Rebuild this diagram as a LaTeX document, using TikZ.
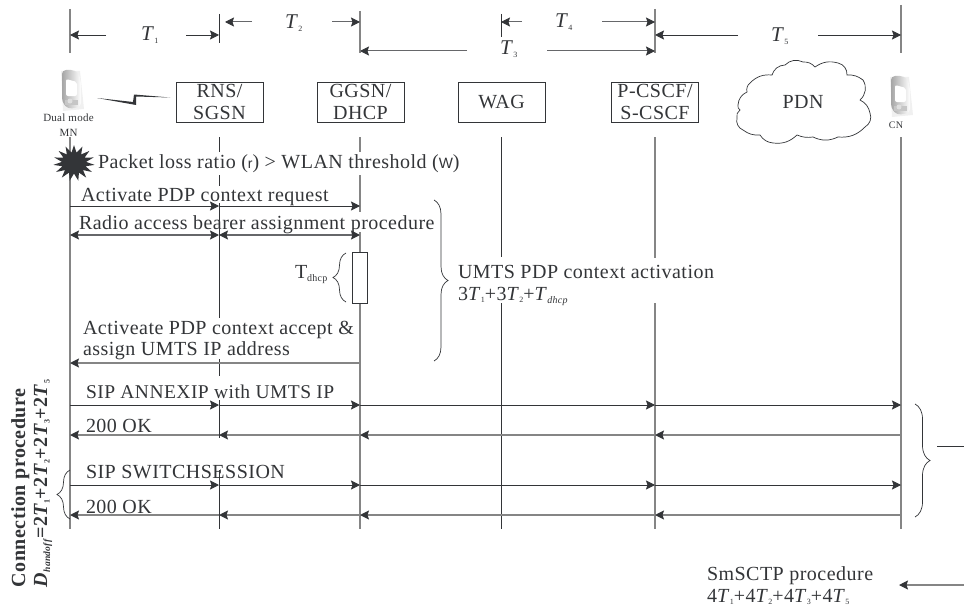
\documentclass[tikz,border=0pt]{standalone}
\usepackage{fontspec}
\setmainfont[LetterSpace=2.4]{Liberation Serif}
\newfontfamily\sansr{Liberation Sans}
\usetikzlibrary{arrows.meta,decorations.pathreplacing,shapes.geometric}
\definecolor{ink}{HTML}{333538}
\definecolor{grayline}{HTML}{858585}
\newcommand\Tn[1]{\textit{T}\raisebox{-2.5pt}{\fontsize{8}{8}\selectfont #1}}
\newcommand\Tnb[1]{\textbf{\textit{T}}\raisebox{-2.5pt}{\fontsize{8}{8}\selectfont #1}}
\tikzset{
  x=1pt,y=-1pt,
  every node/.style={text=ink,inner sep=0pt,outer sep=0pt},
  tip/.style={-{Stealth[length=9pt,width=9pt,inset=1.5pt,color=ink]}},
  tipb/.style={{Stealth[length=9pt,width=9pt,inset=1.5pt,color=ink]}-{Stealth[length=9pt,width=9pt,inset=1.5pt,color=ink]}},
  dark/.style={draw=ink,line width=.9pt},
  pale/.style={draw=grayline,line width=1.3pt},
  mid/.style={draw=ink!75,line width=1pt},
  label/.style={anchor=base west,font=\fontsize{20}{22}\selectfont},
  tlabel/.style={anchor=base west,font=\fontsize{21}{22}\selectfont},
  entity/.style={draw=ink,line width=.8pt,minimum width=87pt,minimum height=40pt,align=center,font=\fontsize{20}{22}\selectfont},
  small/.style={font=\fontsize{11}{15}\selectfont,align=center},
  bracedeco/.style={draw=ink,line width=.7pt,decorate,decoration={brace,amplitude=#1,aspect=.5}},
  phone/.pic={
    \fill[gray!12] (-10,-19) -- (9,-19) -- (13,19) -- (-8,21) -- cycle;
    \shade[left color=gray!70,right color=white,rounded corners=4pt] (-9,-20) -- (4,-20) .. controls (8,-16) and (9,-12) .. (10,-8) -- (10,17) -- (-3,19) -- (-9,12) -- cycle;
    \fill[white,rounded corners=2pt] (-5,-11) -- (6,-8) -- (6,6) -- (-5,6) -- cycle;
    \fill[gray!45] (-6,10) rectangle (7,15);
    \fill[gray!25] (-1,11) circle (2.5pt);
  }
}
\begin{document}
\begin{tikzpicture}
\useasboundingbox (0,0) rectangle (964,610);
% lifeline positions
\coordinate (la) at (70,0); \coordinate (lb) at (219,0); \coordinate (lc) at (360,0);
\coordinate (ld) at (501,0); \coordinate (le) at (655,0); \coordinate (lf) at (901,0);
\newcommand\seg[4]{\draw[#1] (#2 |- 0,#3) -- (#2 |- 0,#4);}
% timing ticks
\seg{pale}{la}{9}{53}\seg{dark}{lb}{14}{43}\seg{pale}{lc}{11}{53}
\seg{dark}{ld}{14}{37}\seg{pale}{le}{9}{53}\seg{pale}{lf}{5}{53}
% timing labels
\node[tlabel] (t1) at (141,41) {\Tn{1}};
\node[tlabel] (t2) at (285,29) {\Tn{2}};
\node[tlabel] (t3) at (500,55) {\Tn{3}};
\node[tlabel] (t4) at (555,28) {\Tn{4}};
\node[tlabel] (t5) at (771,42) {\Tn{5}};
% timing arrows
\coordinate (t1l) at (106,35); \coordinate (t1r) at (186,35);
\coordinate (t2l) at (252,22); \coordinate (t2r) at (332,22);
\coordinate (t3l) at (467,51); \coordinate (t3r) at (547,51);
\coordinate (t4l) at (522,22); \coordinate (t4r) at (602,22);
\coordinate (t5l) at (738,35); \coordinate (t5r) at (818,35);
\draw[dark,tip] (t1l) -- (la |- t1l);  \draw[dark,tip] (t1r) -- (lb |- t1r);
\draw[mid,tip] (t2l) -- ([xshift=6pt]lb |- t2l);  \draw[mid,tip] (t2r) -- (lc |- t2r);
\draw[mid,tip] (t3l) -- (lc |- t3l);  \draw[mid,tip] (t3r) -- (le |- t3r);
\draw[mid,tip] (t4l) -- (ld |- t4l);  \draw[mid,tip] (t4r) -- (le |- t4r);
\draw[dark,tip] (t5l) -- (le |- t5l);  \draw[dark,tip] (t5r) -- (lf |- t5r);
% entities
\pic at (71,90) {phone};
\node[small] (mn) at (68.5,125) {Dual mode\\MN};
\node[entity] (rns) at (219.5,102) {RNS/\\SGSN};
\node[entity] (ggsn) at (360.5,102) {GGSN/\\DHCP};
\node[entity] (wag) at (501.5,102) {WAG};
\node[entity] (cscf) at (655,102) {P-CSCF/\\S-CSCF};
\node[font=\fontsize{20}{22}\selectfont] (pdn) at (803,102) {PDN};
\draw[draw=ink,line width=.7pt] (737,118) to[bend left=35] (740,110) to[bend left=35] (738,105) to[bend left=30] (747,92) to[bend left=30] (750,83) to[bend left=25] (772,75) to[bend left=35] (785,65) to[bend left=35] (803,62) to[bend left=25] (815,67) to[bend left=25] (838,63) to[bend left=40] (847,75) to[bend left=20] (863,80) to[bend left=40] (860,100) to[bend left=25] (870,113) to[bend left=40] (865,127) to[bend left=25] (838,137) to[bend left=25] (813,137) to[bend left=15] (797,135) to[bend left=25] (773,143) to[bend left=25] (760,135) to[bend left=20] (743,130) to[bend left=40] (737,118);
\pic at (900,96) {phone};
\node[small,font=\fontsize{10}{12}\selectfont] (cn) at (896,125) {CN};
% radio link
\fill[ink] (97,98) -- (133,102) -- (134,94.5) -- (170,97.5) -- (136,96.5) -- (136,105) -- cycle;
% lifelines
\seg{pale}{la}{137}{529}
\seg{dark}{lb}{137}{152}\seg{dark}{lb}{175}{186}\seg{dark}{lb}{203}{318}\seg{dark}{lb}{359}{376}\seg{dark}{lb}{400}{438}\seg{dark}{lb}{470}{529}
\seg{pale}{lc}{137}{152}\seg{pale}{lc}{175}{212}\seg{pale}{lc}{232}{252}\seg{pale}{lc}{303}{529}
\seg{dark}{ld}{137}{257}\seg{dark}{ld}{303}{529}
\seg{pale}{le}{137}{258}\seg{pale}{le}{303}{529}
\seg{pale}{lf}{137}{529}
% burst and text
\node[star,star points=15,star point ratio=1.7,fill=ink,minimum size=36pt,xscale=1.15] (burst) at (74,163) {};
\node[label] (pkt) at (98,168) {Packet loss ratio ({\sansr\fontsize{14}{14}\selectfont r}) > WLAN threshold ({\sansr\fontsize{15}{15}\selectfont W})};
\node[label] (m1) at (81,201) {Activate PDP context request};
\node[label] (m2) at (79,229) {Radio access bearer assignment procedure};
\node[label] (m3a) at (83,334) {Activeate PDP context accept \&};
\node[label] (m3b) at (83,355) {assign UMTS IP address};
\node[label,font=\fontsize{19.5}{22}\selectfont] (m4) at (86,398) {SIP ANNEXIP with UMTS IP};
\node[label] (m5) at (86,432) {200 OK};
\node[label] (m6) at (86,478) {SIP SWITCHSESSION};
\node[label] (m7) at (86,513) {200 OK};
% messages
\draw[dark,tip] (la |- 0,206) -- (lb |- 0,206);
\draw[dark,tip] (lb |- 0,206) -- (lc |- 0,206);
\draw[mid,line width=1.2pt,tipb] (la |- 0,235) -- (lb |- 0,235);
\draw[mid,line width=1.2pt,tipb] (lb |- 0,235) -- (lc |- 0,235);
\draw[pale,tip] (lc |- 0,363) -- (la |- 0,363);
\foreach \y in {405,485}{
  \draw[dark,tip] (la |- 0,\y) -- (lb |- 0,\y);
  \draw[dark,tip] (lb |- 0,\y) -- (lc |- 0,\y);
  \draw[dark,tip] (lc |- 0,\y) -- (le |- 0,\y);
  \draw[dark,tip] (le |- 0,\y) -- (lf |- 0,\y);
}
\foreach \y in {435,515}{
  \draw[pale,tip] (lf |- 0,\y) -- (le |- 0,\y);
  \draw[pale,tip] (le |- 0,\y) -- (lc |- 0,\y);
  \draw[pale,tip] (lc |- 0,\y) -- (lb |- 0,\y);
  \draw[pale,tip] (lb |- 0,\y) -- (la |- 0,\y);
}
% DHCP box
\node[draw=ink,line width=.8pt,fill=white,minimum width=15pt,minimum height=51pt] (dhcp) at (360,277.5) {};
\node[anchor=base west,font=\fontsize{20}{20}\selectfont] (tdhcp) at (295,278) {T\raisebox{-3pt}{\fontsize{10}{10}\selectfont dhcp}};
% braces
\coordinate (b1a) at (346,302); \coordinate (b1b) at (346,253);
\draw[bracedeco=13pt] (b1a) -- (b1b);
\coordinate (b2a) at (434,200); \coordinate (b2b) at (434,361);
\draw[bracedeco=14pt] (b2a) -- (b2b);
\coordinate (b3a) at (70,519); \coordinate (b3b) at (70,470);
\draw[bracedeco=13pt] (b3a) -- (b3b);
\coordinate (b4a) at (915,404); \coordinate (b4b) at (915,517);
\draw[bracedeco=15pt] (b4a) -- (b4b);
% right-hand annotations
\node[label] (umts) at (458,278) {UMTS PDP context activation};
\node[label] (umtsf) at (458,300) {3\Tn{1}+3\Tn{2}+\textit{T}\raisebox{-3pt}{\fontsize{10}{10}\selectfont\textit{dhcp}}};
\node[label] (sm) at (707,580) {SmSCTP procedure};
\node[label] (smf) at (707,602) {4\Tn{1}+4\Tn{2}+4\Tn{3}+4\Tn{5}};
\coordinate (edge1) at (937,446); \coordinate (edge2) at (964,446);
\draw[dark] (edge1) -- (edge2);
\coordinate (edge3) at (964,585); \coordinate (edge4) at (899,585);
\draw[pale,line width=1.1pt,tip] (edge3) -- (edge4);
% rotated labels
\node[rotate=90,anchor=base west,font=\fontsize{20}{22}\selectfont\bfseries] (conn) at (25,587) {Connection procedure};
\node[rotate=90,anchor=base west,font=\fontsize{20}{22}\selectfont\bfseries] (dh) at (47,587) {\textit{D}\raisebox{-3pt}{\fontsize{9.5}{10}\selectfont\textit{handoff}}=2\Tnb{1}+2\Tnb{2}+2\Tnb{3}+2\Tnb{5}};
\end{tikzpicture}
\end{document}
